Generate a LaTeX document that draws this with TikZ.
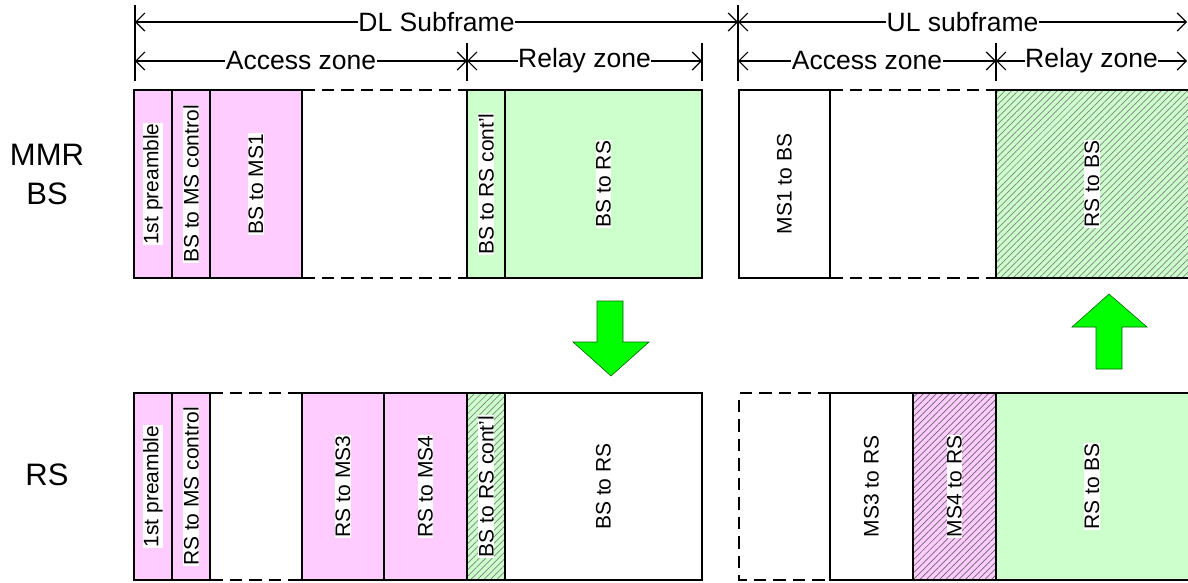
\documentclass[tikz,border=0pt]{standalone}
\usepackage{fontspec}
\setmainfont{Liberation Sans}
\usetikzlibrary{arrows.meta,patterns.meta}
\definecolor{pinkc}{HTML}{FFCCFF}
\definecolor{greenc}{HTML}{CCFFCC}
\definecolor{arrowg}{HTML}{00FF00}
\definecolor{hatchc}{HTML}{808080}
\begin{document}
\begin{tikzpicture}[x=1pt,y=-1pt,
  cell/.style={draw, line width=1.5pt, outer sep=0pt, inner sep=0pt},
  toprow/.style={minimum height=188pt},
  botrow/.style={minimum height=187pt},
  pinkcell/.style={cell, fill=pinkc},
  greencell/.style={cell, fill=greenc},
  whitecell/.style={cell, fill=white},
  hatchgreen/.style={cell, preaction={fill=greenc}, pattern={Lines[angle=45,distance=4.6pt,line width=0.7pt]}, pattern color=hatchc},
  hatchpink/.style={cell, preaction={fill=pinkc}, pattern={Lines[angle=45,distance=4.6pt,line width=0.7pt]}, pattern color=hatchc!80!black},
  emptycell/.style={outer sep=0pt, inner sep=0pt},
  dashedge/.style={line width=1.5pt, dash pattern=on 12.5pt off 7pt},
  lbl/.style={rotate=90, fill=white, inner sep=0.4pt, font=\fontsize{21}{23}\selectfont},
  dimline/.style={line width=1.2pt, {Straight Barb[length=9pt,width=18pt]}-{Straight Barb[length=9pt,width=18pt]}},
  dimtext/.style={fill=white, inner sep=0.6pt, font=\fontsize{26.5}{28}\selectfont},
  tick/.style={line width=1.2pt},
  rowlbl/.style={align=center, font=\fontsize{31}{39}\selectfont},
  bigarrow/.style={fill=arrowg, draw=black!60!green, line width=0.6pt, line join=miter}
]
\useasboundingbox (0,0) rectangle (1188,582);

% ---------- dimension coordinates ----------
\coordinate (dl0) at (135,22);
\coordinate (dl1) at (738,22);
\coordinate (ul1) at (1187,22);
\coordinate (ad0) at (135,61);
\coordinate (ad1) at (467,61);
\coordinate (rd1) at (702,61);
\coordinate (au0) at (738,61);
\coordinate (au1) at (996,61);
\coordinate (ru1) at (1187,61);

\coordinate (t0a) at (135,5);   \coordinate (t0b) at (135,81);
\coordinate (t1a) at (738,5);   \coordinate (t1b) at (738,81);
\coordinate (t2a) at (467,43);  \coordinate (t2b) at (467,81);
\coordinate (t3a) at (702,43);  \coordinate (t3b) at (702,81);
\coordinate (t4a) at (996,43);  \coordinate (t4b) at (996,81);

\draw[tick] (t0a) -- (t0b);
\draw[tick] (t1a) -- (t1b);
\draw[tick] (t2a) -- (t2b);
\draw[tick] (t3a) -- (t3b);
\draw[tick] (t4a) -- (t4b);

\draw[dimline] (dl0) -- node[dimtext] (dlt) {DL Subframe} (dl1);
\draw[dimline] (dl1) -- node[dimtext] (ult) {UL subframe} (ul1);
\draw[dimline] (ad0) -- node[dimtext] (adt) {Access zone} (ad1);
\draw[dimline] (ad1) -- node[dimtext] (rdt) {Relay zone} (rd1);
\draw[dimline] (au0) -- node[dimtext] (aut) {Access zone} (au1);
\draw[dimline] (au1) -- node[dimtext] (rut) {Relay zone} (ru1);

% ---------- row labels ----------
\node[rowlbl] (mmr) at (47,174) {MMR\\BS};
\node[rowlbl] (rsl) at (47,475) {RS};

% ---------- top row (MMR BS) ----------
\node[pinkcell, toprow, minimum width=38pt] (tp1) at (153,184) {};
\node[pinkcell, toprow, minimum width=38pt] (tp2) at (191,184) {};
\node[pinkcell, toprow, minimum width=92pt] (tp3) at (256,184) {};
\node[emptycell, toprow, minimum width=165pt] (te1) at (384.5,184) {};
\node[greencell, toprow, minimum width=38pt] (tp4) at (486,184) {};
\node[greencell, toprow, minimum width=197pt] (tp5) at (603.5,184) {};
\node[whitecell, toprow, minimum width=91pt] (tu1) at (784.5,184) {};
\node[emptycell, toprow, minimum width=166pt] (te2) at (913,184) {};
\node[hatchgreen, toprow, minimum width=198pt] (tu2) at (1095,184) {};

\draw[dashedge] (te1.north west) -- (te1.north east);
\draw[dashedge] (te1.south west) -- (te1.south east);
\draw[dashedge] (te2.north west) -- (te2.north east);
\draw[dashedge] (te2.south west) -- (te2.south east);

\node[lbl] at (tp1) {1st preamble};
\node[lbl] at (tp2) {BS to MS control};
\node[lbl] at (tp3) {BS to MS1};
\node[lbl] at (tp4) {BS to RS cont’l};
\node[lbl] at (tp5) {BS to RS};
\node[lbl] at (tu1) {MS1 to BS};
\node[lbl] at (1092,184) {RS to BS};

% ---------- bottom row (RS) ----------
\node[pinkcell, botrow, minimum width=38pt] (bp1) at (153,486.5) {};
\node[pinkcell, botrow, minimum width=38pt] (bp2) at (191,486.5) {};
\node[emptycell, botrow, minimum width=92pt] (be1) at (256,486.5) {};
\node[pinkcell, botrow, minimum width=82pt] (bp3) at (343,486.5) {};
\node[pinkcell, botrow, minimum width=83pt] (bp4) at (425.5,486.5) {};
\node[hatchgreen, botrow, minimum width=38pt] (bp5) at (486,486.5) {};
\node[whitecell, botrow, minimum width=197pt] (bp6) at (603.5,486.5) {};
\node[emptycell, botrow, minimum width=91pt] (be2) at (784.5,486.5) {};
\node[whitecell, botrow, minimum width=83pt] (bu1) at (871.5,486.5) {};
\node[hatchpink, botrow, minimum width=83pt] (bu2) at (954.5,486.5) {};
\node[greencell, botrow, minimum width=198pt] (bu3) at (1095,486.5) {};

\draw[dashedge] (be1.north west) -- (be1.north east);
\draw[dashedge] (be1.south west) -- (be1.south east);
\draw[dashedge] (be2.north east) -- (be2.north west) -- (be2.south west) -- (be2.south east);

\node[lbl] at (bp1) {1st preamble};
\node[lbl] at (bp2) {RS to MS control};
\node[lbl] at (bp3) {RS to MS3};
\node[lbl] at (bp4) {RS to MS4};
\node[lbl] at (bp5) {BS to RS cont’l};
\node[lbl] at (bp6) {BS to RS};
\node[lbl] at (bu1) {MS3 to RS};
\node[lbl] at (bu2) {MS4 to RS};
\node[lbl] at (1092,486.5) {RS to BS};

% ---------- big arrows ----------
\draw[bigarrow] (597,301) -- (623,301) -- (623,342) -- (649,342) -- (611,376) -- (573,342) -- (597,342) -- cycle;
\draw[bigarrow] (1109,294) -- (1147,327) -- (1122,327) -- (1122,369) -- (1096,369) -- (1096,327) -- (1072,327) -- cycle;
\end{tikzpicture}
\end{document}
